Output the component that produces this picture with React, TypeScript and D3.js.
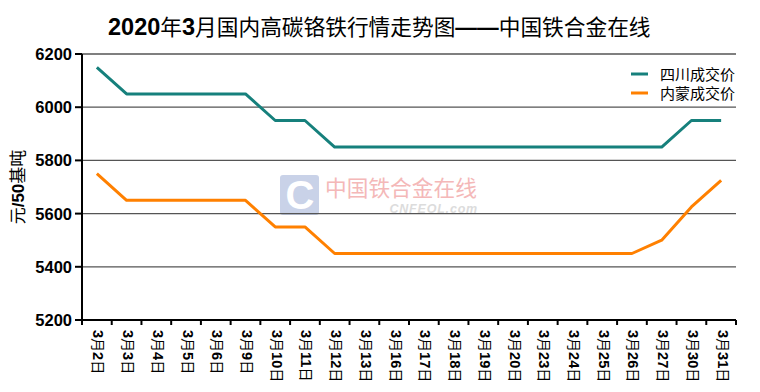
import React from "react";
import * as d3 from "d3";

const categories = ["3月2日","3月3日","3月4日","3月5日","3月6日","3月9日","3月10日","3月11日","3月12日","3月13日","3月16日","3月17日","3月18日","3月19日","3月20日","3月23日","3月24日","3月25日","3月26日","3月27日","3月30日","3月31日"];
const sichuan = [6150,6050,6050,6050,6050,6050,5950,5950,5850,5850,5850,5850,5850,5850,5850,5850,5850,5850,5850,5850,5950,5950];
const neimeng = [5750,5650,5650,5650,5650,5650,5550,5550,5450,5450,5450,5450,5450,5450,5450,5450,5450,5450,5450,5500,5625,5725];
const yTicks = [5200,5400,5600,5800,6000,6200];
const seriesNames = ["四川成交价","内蒙成交价"];
const colors = ["#16807c","#ff8000"];

const W = 760, H = 392;
const left = 82, right = 736, top = 54, bottom = 320;

function splitLabel(s: string) {
  return s.match(/\d+|\D+/g) || [s];
}

export default function App() {
  const x = d3.scaleBand<string>().domain(categories).range([left, right]);
  const y = d3.scaleLinear().domain([5200, 6200]).range([bottom, top]);
  const line = d3.line<number>()
    .x((_, i) => (x(categories[i]) as number) + x.bandwidth() / 2)
    .y(d => y(d));
  const series = [sichuan, neimeng];
  const font = "'Liberation Sans', Arial, 'Noto Sans CJK SC', sans-serif";
  const cjk = "'Noto Sans CJK SC', sans-serif";
  return (
    <svg width={W} height={H} style={{ position: "absolute", left: 0, top: 0, background: "#fff" }} fontFamily={font}>
      <rect width={W} height={H} fill="#fff" />
      <text x={108} y={35} fontSize={21.7} fill="#000">
        <tspan fontWeight="bold" fontSize={23.5}>2020</tspan><tspan fontFamily={cjk}>年</tspan><tspan fontWeight="bold" fontSize={23.5}>3</tspan><tspan fontFamily={cjk}>月国内高碳铬铁行情走势图</tspan><tspan fontWeight="bold">——</tspan><tspan fontFamily={cjk}>中国铁合金在线</tspan>
      </text>
      {/* watermark */}
      <g>
        <rect x={280} y={175} width={39} height={40} rx={3} fill="#c9d2e8" />
        <text x={300} y={209} textAnchor="middle" fontSize={40} fontWeight="bold" fill="#fff">C</text>
        <text x={325} y={196} fontSize={21.7} fill="#f4b8b8" fontFamily={cjk}>中国铁合金在线</text>
        <text x={478} y={213} textAnchor="end" fontSize={12.5} fontStyle="italic" fontWeight="bold" fill="#dcdcdc" letterSpacing={0.8}>CNFEOL.com</text>
      </g>
      {yTicks.map(t => (
        <g key={t}>
          <line x1={left} x2={right} y1={y(t)} y2={y(t)} stroke="#555" strokeWidth={1.3} />
          <line x1={left - 7} x2={left} y1={y(t)} y2={y(t)} stroke="#000" strokeWidth={2} />
          <text x={left - 10} y={y(t) + 6} textAnchor="end" fontSize={16.5} fontWeight="bold">{t}</text>
        </g>
      ))}
      <line x1={left} x2={left} y1={top} y2={bottom} stroke="#000" strokeWidth={2} />
      <line x1={left} x2={right} y1={bottom} y2={bottom} stroke="#000" strokeWidth={2} />
      {categories.map((c, i) => (
        <line key={"t" + i} x1={(x(c) as number)} x2={(x(c) as number)} y1={bottom} y2={bottom + 5} stroke="#000" strokeWidth={2} />
      ))}
      <line x1={right} x2={right} y1={bottom} y2={bottom + 5} stroke="#000" strokeWidth={2} />
      {categories.map(c => {
        const cx = (x(c) as number) + x.bandwidth() / 2;
        return (
          <text key={c} transform={`translate(${cx - 3.5},${bottom + 10}) rotate(90)`} fontSize={14.5} fill="#000">
            {splitLabel(c).map((p, j) => /\d/.test(p)
              ? <tspan key={j} fontWeight="bold">{p}</tspan>
              : <tspan key={j} fontFamily={cjk} fontSize={14}>{p}</tspan>)}
          </text>
        );
      })}
      <text transform={`translate(24,187) rotate(-90)`} textAnchor="middle" fontSize={17} fill="#000">
        <tspan fontFamily={cjk}>元</tspan><tspan fontWeight="bold">/50</tspan><tspan fontFamily={cjk}>基吨</tspan>
      </text>
      {series.map((s, k) => (
        <path key={k} d={line(s) as string} fill="none" stroke={colors[k]} strokeWidth={3} strokeLinejoin="round" />
      ))}
      {seriesNames.map((n, k) => (
        <g key={n}>
          <line x1={631} x2={648} y1={74 + k * 19} y2={74 + k * 19} stroke={colors[k]} strokeWidth={3} />
          <text x={660} y={80 + k * 19} fontSize={15} fill="#000" fontFamily={cjk}>{n}</text>
        </g>
      ))}
    </svg>
  );
}
